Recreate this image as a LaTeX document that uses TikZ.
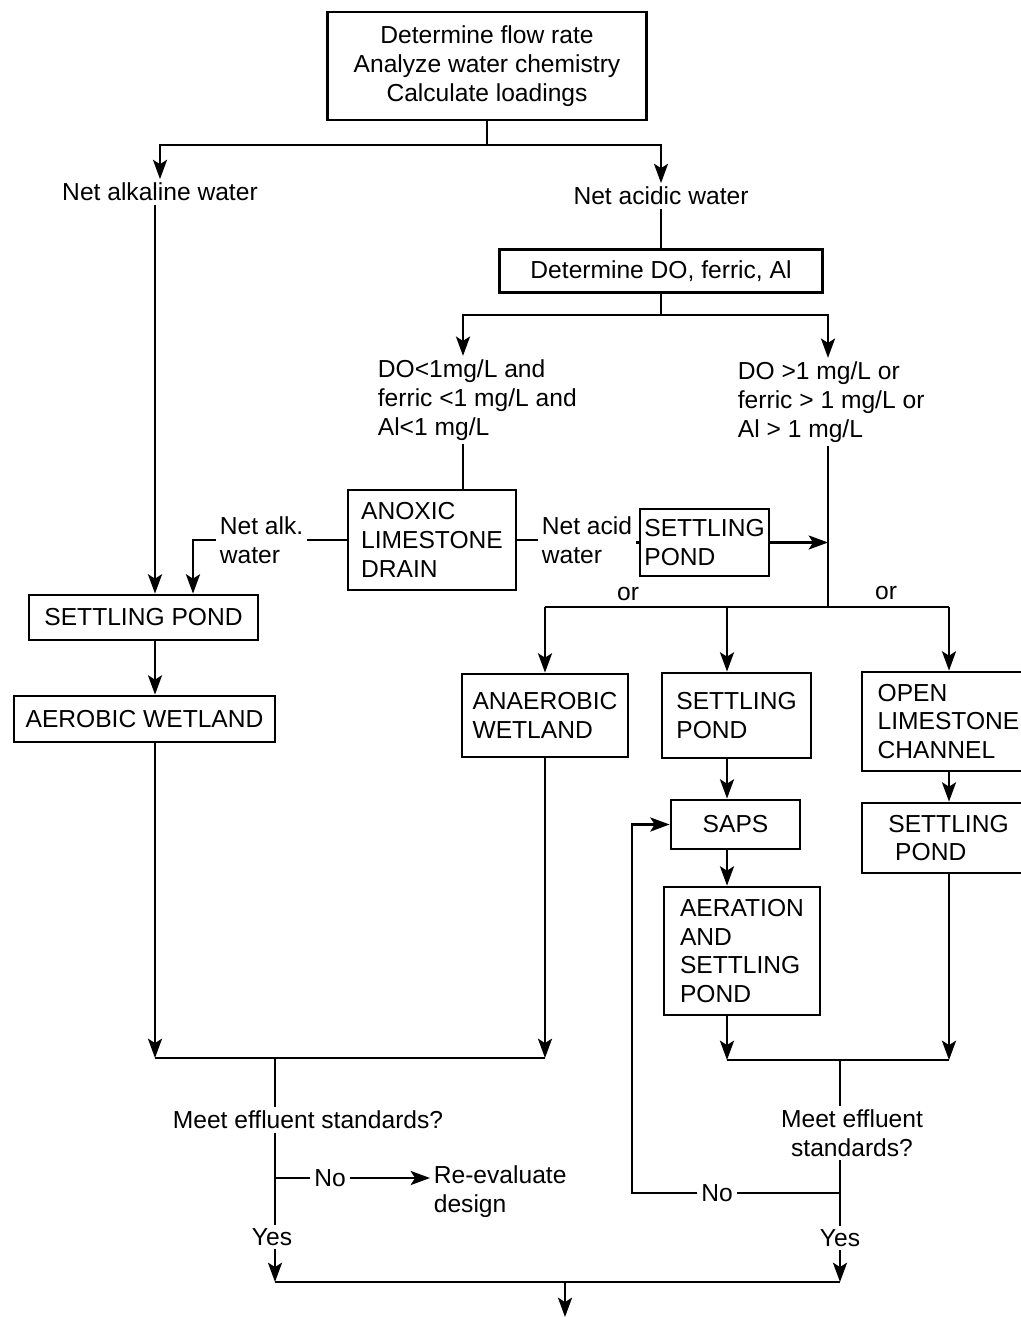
\documentclass[tikz,border=0pt]{standalone}
\usepackage{fontspec}
\setmainfont{Liberation Sans}
\usetikzlibrary{arrows.meta}
\newcommand{\fs}{\fontsize{14}{16.4}\selectfont}
\tikzset{
  box/.style  = {draw, line width=1.6pt, align=center, inner sep=2pt, font=\fs},
  boxl/.style = {box, align=left},
  lbl/.style  = {align=center, inner sep=2pt, font=\fs},
  lbll/.style = {lbl, align=left},
  ln/.style   = {line width=1.3pt},
  arr/.style  = {-{Stealth[length=11pt,width=8pt,inset=2.5pt]}, line width=1.3pt},
}

\begin{document}
\begin{tikzpicture}[x=0.02cm, y=-0.02cm]
\useasboundingbox (0,0) rectangle (1020,1317);

%%──────────────────────────────────────────────────
%% Start
%%──────────────────────────────────────────────────
\node[box, minimum width=6.38cm, minimum height=2.16cm] (top) at (487,66)
  {Determine flow rate\\Analyze water chemistry\\Calculate loadings};
\node[lbl] (netalk)  at (160,192) {Net alkaline water};
\node[lbl] (netacid) at (661,196) {Net acidic water};
\coordinate (splitA) at (487,145);

\draw[ln]  (top.south) -- (splitA);
\draw[arr] (splitA) -| (netalk.north);
\draw[arr] (splitA) -| (netacid.north);

%%──────────────────────────────────────────────────
%% Net acidic water
%%──────────────────────────────────────────────────
\node[box, minimum width=6.46cm, minimum height=0.86cm] (detdo) at (661,271)
  {Determine DO, ferric, Al};
\coordinate (splitB) at (661,315);
\coordinate (cL) at (463,315);
\coordinate (cR) at (828,315);
\node[lbll, anchor=west] (dolow)  at (374,400)
  {DO<1mg/L and\\ferric <1 mg/L and\\Al<1 mg/L};
\node[lbll, anchor=west] (dohigh) at (734,402)
  {DO >1 mg/L or\\ferric > 1 mg/L or\\Al > 1 mg/L};

\draw[ln]  (netacid) -- (detdo);
\draw[ln]  (detdo.south) -- (splitB);
\draw[arr] (splitB) -| (dolow.north -| cL);
\draw[arr] (splitB) -| (dohigh.north -| cR);

%% anoxic limestone drain
\node[boxl, minimum width=3.36cm, minimum height=2cm] (anoxic) at (432,540)
  {ANOXIC\\LIMESTONE\\DRAIN};
\node[lbll, anchor=west] (nalk)  at (216,540) {Net alk.\\water};
\node[lbll, anchor=west] (nacid) at (538,540) {Net acid\\water};
\node[boxl, inner sep=1pt, minimum width=2.58cm, minimum height=1.34cm] (spmid)
  at (704.5,542.5) {SETTLING\\POND};
\coordinate (hookL) at (193,540);
\coordinate (jR) at (828,607);

%%──────────────────────────────────────────────────
%% Net alkaline water
%%──────────────────────────────────────────────────
\coordinate (cA) at (155,650);
\node[box, minimum width=4.58cm, minimum height=0.9cm] (spleft) at (143.5,617.5)
  {SETTLING POND};
\node[box, minimum width=5.22cm, minimum height=0.92cm] (aerobic) at (144.5,719)
  {AEROBIC WETLAND};

\draw[arr] (netalk.south -| cA) -- (spleft.north -| cA);
\draw[arr] (spleft.south -| cA) -- (aerobic.north -| cA);

\draw[ln]  (dolow.south -| cL) -- (anoxic.north -| cL);
\draw[ln]  (anoxic.west) -- (nalk.east);
\draw[arr] (nalk.west) -- (hookL) -- (hookL |- spleft.north);
\draw[ln]  (anoxic.east) -- (nacid.west);
\draw[ln]  (spmid.west -| nacid.east) -- (spmid.west);
\draw[arr] (spmid.east) -- (spmid.east -| jR);
\draw[ln]  (dohigh.south -| cR) -- (jR);

%%──────────────────────────────────────────────────
%% Three options
%%──────────────────────────────────────────────────
\node[lbl] (or1) at (628,594) {or};
\node[lbl] (or2) at (886,593) {or};
\node[boxl, minimum width=3.32cm, minimum height=1.66cm] (anaer) at (545,715.5)
  {ANAEROBIC\\WETLAND};
\node[boxl, minimum width=2.98cm, minimum height=1.7cm] (spc) at (736.5,715.5)
  {SETTLING\\POND};
\node[boxl, minimum width=3.46cm, minimum height=1.98cm] (open) at (948.5,721.5)
  {OPEN\\LIMESTONE\\CHANNEL};
\coordinate (cM) at (727,607);
\coordinate (cO) at (949,607);

\draw[ln]  (anaer.north |- jR) -- (cO);
\draw[arr] (anaer.north |- jR) -- (anaer.north);
\draw[arr] (cM) -- (spc.north -| cM);
\draw[arr] (cO) -- (open.north -| cO);

\node[box, minimum width=2.58cm, minimum height=0.98cm] (saps) at (735.5,824.5)
  {SAPS};
\node[boxl, minimum width=3.12cm, minimum height=2.56cm] (aer) at (742,951)
  {AERATION\\AND\\SETTLING\\POND};
\node[boxl, minimum width=3.46cm, minimum height=1.4cm] (spr) at (948.5,838)
  {SETTLING\\\ POND};

\draw[arr] (spc.south -| cM)  -- (saps.north -| cM);
\draw[arr] (saps.south -| cM) -- (aer.north -| cM);
\draw[arr] (open.south -| cO) -- (spr.north -| cO);

%%──────────────────────────────────────────────────
%% Effluent checks
%%──────────────────────────────────────────────────
\coordinate (mL) at (275,1058);
\node[lbl] (meetl) at (308,1120) {Meet effluent standards?};
\node[lbl] (nol)   at (330,1178) {No};
\node[lbll, anchor=west] (reeval) at (430,1192) {Re-evaluate\\design};
\node[lbl] (yesl)  at (272,1237) {Yes};

\draw[arr] (aerobic.south -| cA) -- (cA |- mL);
\draw[arr] (anaer.south) -- (anaer.south |- mL);
\draw[ln]  (cA |- mL) -- (anaer.south |- mL);
\draw[ln]  (mL) -- (meetl.north -| mL);
\draw[ln]  (meetl.south -| mL) -- (yesl.north -| mL);
\draw[ln]  (nol -| mL) -- (nol.west);
\draw[arr] (nol.east) -- (nol -| reeval.west);

\coordinate (mR) at (840,1060);
\node[lbl] (meetr) at (852,1133) {Meet effluent\\standards?};
\node[lbl] (nor)   at (717,1193) {No};
\node[lbl] (yesr)  at (840,1238) {Yes};
\coordinate (fb) at (632,1193);

\draw[arr] (aer.south -| cM) -- (cM |- mR);
\draw[arr] (spr.south -| cO) -- (cO |- mR);
\draw[ln]  (cM |- mR) -- (cO |- mR);
\draw[ln]  (mR) -- (meetr.north -| mR);
\draw[ln]  (meetr.south -| mR) -- (yesr.north -| mR);
\draw[ln]  (nor -| mR) -- (nor.east);
\draw[arr] (nor.west) -- (fb) |- (saps.west);

%% merge
\coordinate (mB)   at (565,1282);
\coordinate (outB) at (565,1317);
\draw[arr] (yesl.south -| mL) -- (mL |- mB);
\draw[arr] (yesr.south -| mR) -- (mR |- mB);
\draw[ln]  (mL |- mB) -- (mR |- mB);
\draw[arr] (mB) -- (outB);

\end{tikzpicture}
\end{document}
